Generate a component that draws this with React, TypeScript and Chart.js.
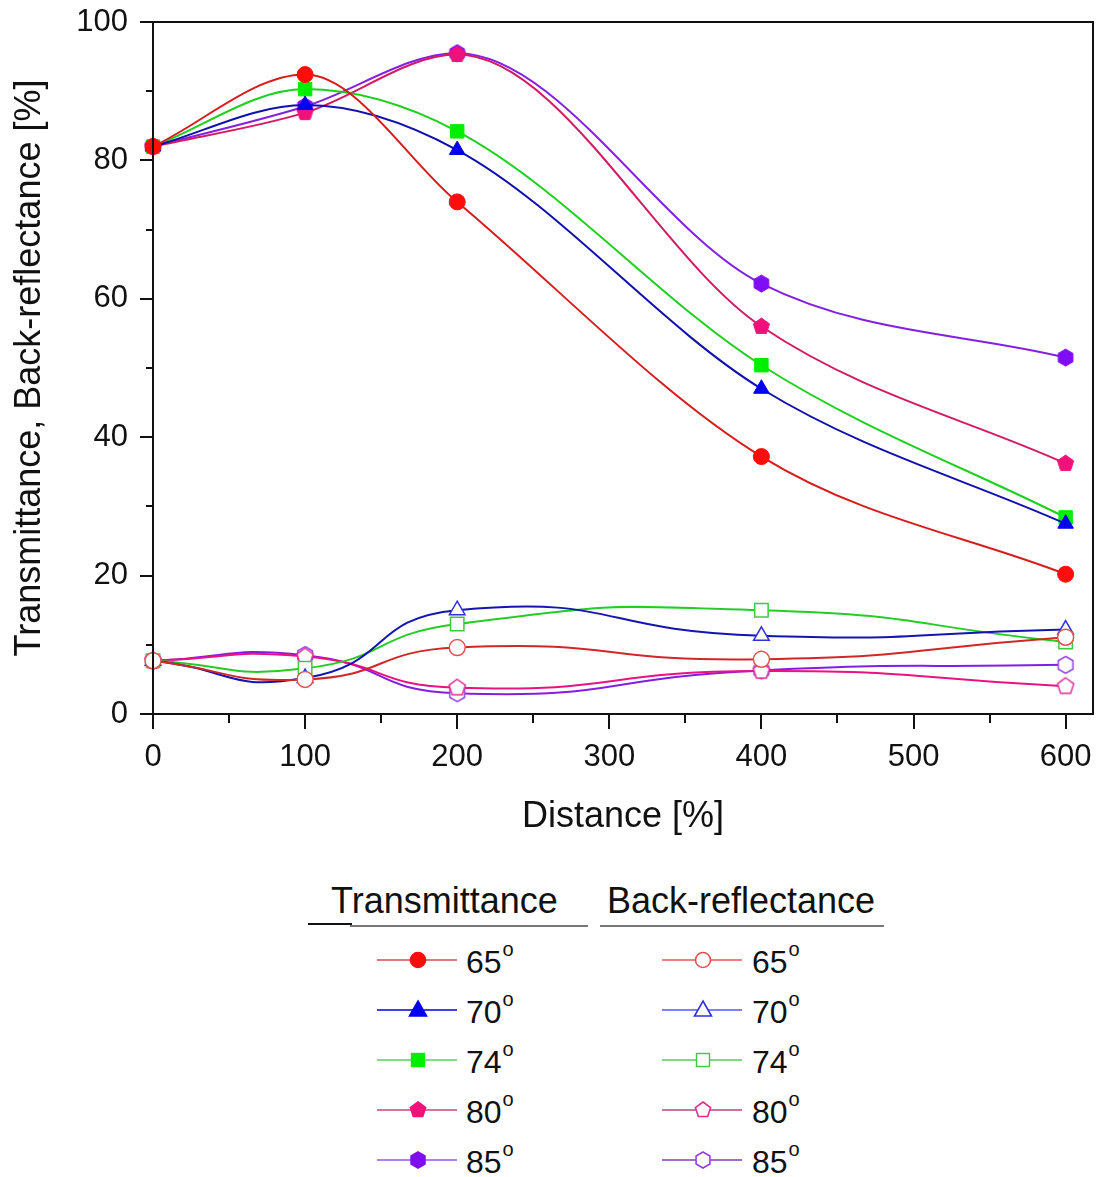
import React, { useEffect, useRef } from 'react';
import { Chart, registerables } from 'chart.js';

Chart.register(...registerables);

// ---------- data ----------
const distances = [0, 100, 200, 400, 600];
const angleLabels = ['65', '70', '74', '80', '85'];

const trans65 = [82, 92.4, 74, 37.2, 20.2];
const trans70 = [82, 88, 81.5, 47, 27.5];
const trans74 = [82, 90.3, 84.2, 50.4, 28.4];
const trans80 = [82, 86.9, 95.3, 56, 36.2];
const trans85 = [82, 87.8, 95.5, 62.2, 51.5];

const back65 = [7.7, 5.0, 9.6, 7.9, 11.1];
const back70 = [7.7, 5.2, 15.0, 11.3, 12.2];
const back74 = [7.7, 6.6, 13.0, 15.0, 10.4];
const back80 = [7.7, 8.3, 3.8, 6.2, 4.0];
const back85 = [7.7, 8.5, 3.0, 6.3, 7.1];

const xMajorTicks = [0, 100, 200, 300, 400, 500, 600];
const xMinorTicks = [50, 150, 250, 350, 450, 550];
const yMajorTicks = [0, 20, 40, 60, 80, 100];
const yMinorTicks = [10, 30, 50, 70, 90];

const xTitle = 'Distance [%]';
const yTitle = 'Transmittance, Back-reflectance [%]';
const transHeader = 'Transmittance';
const backHeader = 'Back-reflectance';

// ---------- styles ----------
const FONT = '"Liberation Sans", Arial, Helvetica, sans-serif';
const transLine = ['#d81c1c', '#1010b0', '#1ed01e', '#d41a62', '#8420e0'];
const transMark = ['#ff0d0d', '#0000f0', '#00ee00', '#f0127a', '#7f0df5'];
const backLine = ['#d02828', '#1414b0', '#26cc26', '#ea1280', '#861ce2'];
const backMark = ['#e85050', '#3030e0', '#40c840', '#e02e92', '#9040e6'];
const legendTransLine = ['#e07a7a', '#4040e0', '#80e080', '#e07098', '#b080f0'];
const legendBackLine = ['#f08080', '#8080f0', '#80d880', '#d070a0', '#a070c8'];
const shapes = ['circle', 'triangle', 'rect', 'pentagon', 'hexagon'];

const CANVAS_W = 1104;
const CANVAS_H = 870;

function polygonCanvas(sides: number, r: number, fill: string, stroke: string, lw: number) {
  const size = Math.ceil(2 * (r + lw)) + 2;
  const c = document.createElement('canvas');
  c.width = size;
  c.height = size;
  const g = c.getContext('2d')!;
  g.translate(size / 2, size / 2);
  g.beginPath();
  for (let i = 0; i < sides; i++) {
    const a = -Math.PI / 2 + (i * 2 * Math.PI) / sides;
    const px = r * Math.cos(a);
    const py = r * Math.sin(a);
    if (i === 0) g.moveTo(px, py);
    else g.lineTo(px, py);
  }
  g.closePath();
  g.fillStyle = fill;
  g.fill();
  g.lineWidth = lw;
  g.strokeStyle = stroke;
  g.stroke();
  return c;
}

function pointStyleFor(shape: string, fill: string, stroke: string, lw: number): any {
  if (shape === 'pentagon') return polygonCanvas(5, 8.5, fill, stroke, lw);
  if (shape === 'hexagon') return polygonCanvas(6, 8.5, fill, stroke, lw);
  return shape;
}

function radiusFor(shape: string) {
  if (shape === 'rect') return 9.5;
  if (shape === 'triangle') return 9;
  return 8;
}

const axesPlugin = {
  id: 'originAxes',
  afterDraw(chart: any) {
    const { ctx, chartArea, scales } = chart;
    const { left, right, top, bottom } = chartArea;
    const x = scales.x;
    const y = scales.y;
    ctx.save();
    ctx.strokeStyle = '#111';
    ctx.lineWidth = 2;
    ctx.strokeRect(left, top, right - left, bottom - top);
    ctx.beginPath();
    xMajorTicks.forEach((v) => {
      const p = Math.round(x.getPixelForValue(v));
      ctx.moveTo(p, bottom);
      ctx.lineTo(p, bottom + 15);
    });
    xMinorTicks.forEach((v) => {
      const p = Math.round(x.getPixelForValue(v));
      ctx.moveTo(p, bottom);
      ctx.lineTo(p, bottom + 9);
    });
    yMajorTicks.forEach((v) => {
      const p = Math.round(y.getPixelForValue(v));
      ctx.moveTo(left, p);
      ctx.lineTo(left - 13, p);
    });
    yMinorTicks.forEach((v) => {
      const p = Math.round(y.getPixelForValue(v));
      ctx.moveTo(left, p);
      ctx.lineTo(left - 7, p);
    });
    ctx.stroke();
    ctx.restore();
  },
};

function LegendMarker({ shape, fill, stroke, line }: { shape: string; fill: string; stroke: string; line: string }) {
  const cx = 46;
  const cy = 14;
  let mark: any = null;
  if (shape === 'circle') mark = <circle cx={cx} cy={cy} r={7.5} fill={fill} stroke={stroke} strokeWidth={1.6} />;
  else if (shape === 'triangle')
    mark = <polygon points={`${cx},${cy - 9} ${cx + 8.5},${cy + 6} ${cx - 8.5},${cy + 6}`} fill={fill} stroke={stroke} strokeWidth={1.6} />;
  else if (shape === 'rect') mark = <rect x={cx - 6.5} y={cy - 6.5} width={13} height={13} fill={fill} stroke={stroke} strokeWidth={1.4} />;
  else {
    const n = shape === 'pentagon' ? 5 : 6;
    const pts: string[] = [];
    for (let i = 0; i < n; i++) {
      const a = -Math.PI / 2 + (i * 2 * Math.PI) / n;
      pts.push(`${cx + 8 * Math.cos(a)},${cy + 8 * Math.sin(a)}`);
    }
    mark = <polygon points={pts.join(' ')} fill={fill} stroke={stroke} strokeWidth={1.6} />;
  }
  return (
    <svg width={92} height={28} style={{ display: 'block' }}>
      <line x1={5} y1={cy} x2={85} y2={cy} stroke={line} strokeWidth={2} />
      {mark}
    </svg>
  );
}

function zeroPadding(s: any) {
  s.paddingLeft = 0;
  s.paddingRight = 0;
  s.paddingTop = 0;
  s.paddingBottom = 0;
}

export default function App() {
  const canvasRef = useRef<HTMLCanvasElement | null>(null);

  useEffect(() => {
    if (!canvasRef.current) return;
    const transSeries = [trans65, trans70, trans74, trans80, trans85];
    const backSeries = [back65, back70, back74, back80, back85];
    const datasets: any[] = [];
    transSeries.forEach((vals, i) => {
      const shape = shapes[i];
      datasets.push({
        label: `Transmittance ${angleLabels[i]}°`,
        data: distances.map((d, k) => ({ x: d, y: vals[k] })),
        borderColor: transLine[i],
        borderWidth: 2,
        backgroundColor: transMark[i],
        pointStyle: pointStyleFor(shape, transMark[i], transMark[i], 1),
        pointRadius: radiusFor(shape),
        pointBackgroundColor: transMark[i],
        pointBorderColor: transMark[i],
        pointBorderWidth: 1,
        cubicInterpolationMode: 'monotone',
        clip: false,
      });
    });
    backSeries.forEach((vals, i) => {
      const shape = shapes[i];
      datasets.push({
        label: `Back-reflectance ${angleLabels[i]}°`,
        data: distances.map((d, k) => ({ x: d, y: vals[k] })),
        borderColor: backLine[i],
        borderWidth: 2,
        backgroundColor: '#ffffff',
        pointStyle: pointStyleFor(shape, '#ffffff', backMark[i], 1.5),
        pointRadius: radiusFor(shape),
        pointBackgroundColor: '#ffffff',
        pointBorderColor: backMark[i],
        pointBorderWidth: 1.5,
        tension: 0.55,
        clip: false,
      });
    });

    const chart = new Chart(canvasRef.current, {
      type: 'line',
      data: { datasets },
      plugins: [axesPlugin],
      options: {
        animation: false,
        responsive: false,
        devicePixelRatio: 1,
        layout: { padding: { top: 22, right: 0, left: 0, bottom: 0 } },
        plugins: { legend: { display: false }, tooltip: { enabled: false } },
        scales: {
          x: {
            type: 'linear',
            min: 0,
            max: 618,
            afterBuildTicks: (s: any) => {
              s.ticks = xMajorTicks.map((v) => ({ value: v }));
            },
            afterFit: (s: any) => {
              s.height = 156;
              zeroPadding(s);
            },
            grid: { display: false, drawTicks: false },
            border: { display: false },
            ticks: {
              autoSkip: false,
              maxRotation: 0,
              padding: 25,
              color: '#111',
              font: { family: FONT, size: 31 },
              callback: (v: any) => String(v),
            },
            title: {
              display: true,
              text: xTitle,
              color: '#111',
              font: { family: FONT, size: 36 },
              padding: { top: 0, bottom: 31 },
            },
          },
          y: {
            type: 'linear',
            min: 0,
            max: 100,
            afterBuildTicks: (s: any) => {
              s.ticks = yMajorTicks.map((v) => ({ value: v }));
            },
            afterFit: (s: any) => {
              s.width = 153;
              zeroPadding(s);
            },
            grid: { display: false, drawTicks: false },
            border: { display: false },
            ticks: {
              autoSkip: false,
              padding: 25,
              color: '#111',
              font: { family: FONT, size: 31 },
              callback: (v: any) => String(v),
            },
            title: {
              display: true,
              text: yTitle,
              color: '#111',
              font: { family: FONT, size: 36 },
              padding: { top: 8, bottom: 0 },
            },
          },
        },
      },
    } as any);
    return () => chart.destroy();
  }, []);

  const rowYs = angleLabels.map((_, i) => 960 + i * 50);

  return (
    <div
      style={{
        position: 'absolute',
        left: 0,
        top: 0,
        width: 1098,
        height: 1177,
        background: '#ffffff',
        fontFamily: FONT,
        color: '#111',
        overflow: 'hidden',
      }}
    >
      <canvas
        ref={canvasRef}
        width={CANVAS_W}
        height={CANVAS_H}
        style={{ position: 'absolute', left: 0, top: 0, width: CANVAS_W, height: CANVAS_H }}
      />

      <div style={{ position: 'absolute', left: 331, top: 883, fontSize: 36, lineHeight: '36px', whiteSpace: 'nowrap' }}>{transHeader}</div>
      <div style={{ position: 'absolute', left: 607, top: 883, fontSize: 36, lineHeight: '36px', whiteSpace: 'nowrap' }}>{backHeader}</div>
      <div style={{ position: 'absolute', left: 308, top: 923, width: 44, height: 2, background: '#111' }} />
      <div style={{ position: 'absolute', left: 350, top: 925, width: 238, height: 2, background: '#777' }} />
      <div style={{ position: 'absolute', left: 600, top: 925, width: 284, height: 2, background: '#777' }} />

      {angleLabels.map((lab, i) => (
        <React.Fragment key={lab}>
          <div style={{ position: 'absolute', left: 372, top: rowYs[i] - 14 }}>
            <LegendMarker shape={shapes[i]} fill={transMark[i]} stroke={transMark[i]} line={legendTransLine[i]} />
          </div>
          <div style={{ position: 'absolute', left: 466, top: rowYs[i] - 14, fontSize: 32, lineHeight: '32px', whiteSpace: 'nowrap' }}>
            {lab}
            <span style={{ fontSize: 20, position: 'relative', top: -17, marginLeft: 1 }}>o</span>
          </div>
          <div style={{ position: 'absolute', left: 657, top: rowYs[i] - 14 }}>
            <LegendMarker shape={shapes[i]} fill="#ffffff" stroke={backMark[i]} line={legendBackLine[i]} />
          </div>
          <div style={{ position: 'absolute', left: 752, top: rowYs[i] - 14, fontSize: 32, lineHeight: '32px', whiteSpace: 'nowrap' }}>
            {lab}
            <span style={{ fontSize: 20, position: 'relative', top: -17, marginLeft: 1 }}>o</span>
          </div>
        </React.Fragment>
      ))}
    </div>
  );
}
